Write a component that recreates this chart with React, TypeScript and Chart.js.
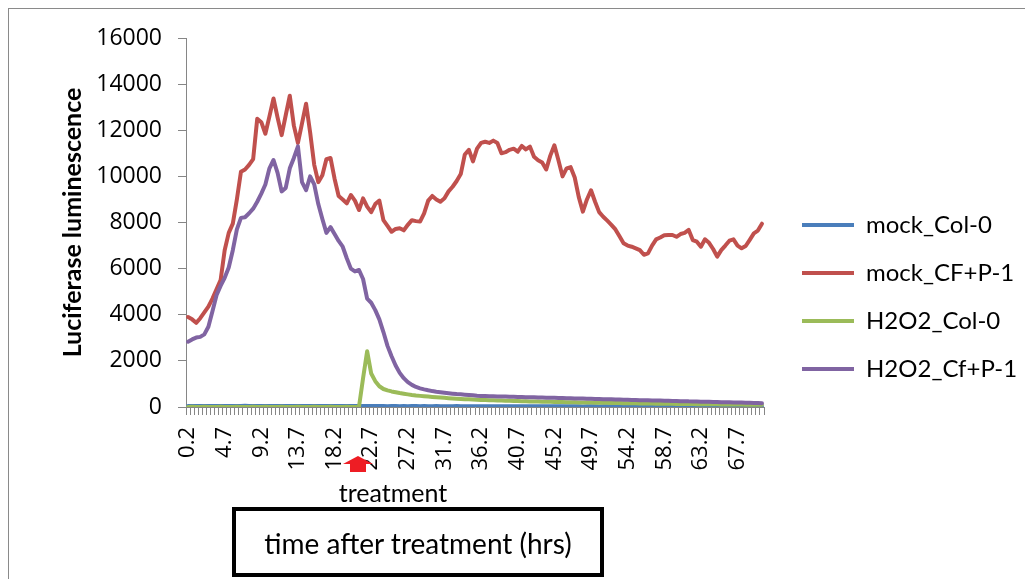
import React, { useEffect, useRef } from "react";
import { Chart, registerables } from "chart.js";

Chart.register(...registerables);

// Time after treatment (hours), one category per half hour
const hours = [
  "0.2", "0.7", "1.2", "1.7", "2.2", "2.7", "3.2", "3.7", "4.2", "4.7",
  "5.2", "5.7", "6.2", "6.7", "7.2", "7.7", "8.2", "8.7", "9.2", "9.7",
  "10.2", "10.7", "11.2", "11.7", "12.2", "12.7", "13.2", "13.7", "14.2", "14.7",
  "15.2", "15.7", "16.2", "16.7", "17.2", "17.7", "18.2", "18.7", "19.2", "19.7",
  "20.2", "20.7", "21.2", "21.7", "22.2", "22.7", "23.2", "23.7", "24.2", "24.7",
  "25.2", "25.7", "26.2", "26.7", "27.2", "27.7", "28.2", "28.7", "29.2", "29.7",
  "30.2", "30.7", "31.2", "31.7", "32.2", "32.7", "33.2", "33.7", "34.2", "34.7",
  "35.2", "35.7", "36.2", "36.7", "37.2", "37.7", "38.2", "38.7", "39.2", "39.7",
  "40.2", "40.7", "41.2", "41.7", "42.2", "42.7", "43.2", "43.7", "44.2", "44.7",
  "45.2", "45.7", "46.2", "46.7", "47.2", "47.7", "48.2", "48.7", "49.2", "49.7",
  "50.2", "50.7", "51.2", "51.7", "52.2", "52.7", "53.2", "53.7", "54.2", "54.7",
  "55.2", "55.7", "56.2", "56.7", "57.2", "57.7", "58.2", "58.7", "59.2", "59.7",
  "60.2", "60.7", "61.2", "61.7", "62.2", "62.7", "63.2", "63.7", "64.2", "64.7",
  "65.2", "65.7", "66.2", "66.7", "67.2", "67.7", "68.2", "68.7", "69.2", "69.7",
  "70.2", "70.7",
];

const seriesNames = ["mock_Col-0", "mock_CF+P-1", "H2O2_Col-0", "H2O2_Cf+P-1"];
const seriesColors = ["#4a7ebb", "#c0504d", "#9bbb59", "#8064a2"];

const mockCol0 = [
  40, 42, 38, 41, 45, 43, 40, 44, 46, 42,
  45, 48, 44, 47, 50, 46, 43, 45, 48, 44,
  46, 43, 45, 47, 44, 42, 45, 43, 41, 44,
  42, 40, 43, 41, 39, 42, 40, 38, 41, 39,
  40, 38, 41, 39, 42, 40, 38, 41, 39, 37,
  40, 38, 36, 39, 37, 40, 38, 36, 39, 37,
  35, 38, 36, 34, 37, 35, 38, 36, 34, 36,
  35, 33, 36, 34, 32, 35, 33, 31, 34, 32,
  33, 31, 34, 32, 30, 33, 31, 29, 32, 30,
  31, 29, 32, 30, 28, 31, 29, 27, 30, 28,
  29, 27, 30, 28, 26, 29, 27, 25, 28, 26,
  27, 25, 28, 26, 24, 27, 25, 23, 26, 24,
  25, 23, 26, 24, 22, 25, 23, 21, 24, 22,
  23, 21, 24, 22, 20, 23, 21, 19, 22, 20,
  21, 20,
];

const mockCfP1 = [
  3900, 3800, 3650, 3850, 4100, 4350, 4700, 5100, 5500, 6800,
  7550, 7950, 9000, 10200, 10300, 10500, 10750, 12500, 12350, 11850,
  12600, 13380, 12550, 11790, 12650, 13500, 12200, 11450, 12300, 13150,
  11900, 10500, 9750, 10050, 10750, 10800, 9900, 9150, 9000, 8830,
  9190, 8950, 8540, 9050, 8690, 8450, 8800, 8950, 8100, 7850,
  7600, 7720, 7750, 7660, 7900, 8100, 8060, 8040, 8400, 8950,
  9150, 9000, 8900, 9050, 9350, 9550, 9800, 10100, 10950, 11150,
  10650, 11200, 11450, 11500, 11450, 11550, 11450, 11000, 11050, 11150,
  11200, 11070, 11320, 11170, 11290, 10850, 10700, 10600, 10300, 10900,
  11350, 10700, 10000, 10350, 10400, 9950, 9100, 8470, 9000, 9400,
  8900, 8450, 8250, 8080, 7900, 7700, 7400, 7100, 7000, 6950,
  6880, 6800, 6600, 6660, 7000, 7270, 7350, 7450, 7460, 7460,
  7380, 7500, 7550, 7680, 7240, 7170, 6950, 7270, 7120, 6850,
  6520, 6800, 7000, 7210, 7270, 7000, 6880, 6980, 7250, 7530,
  7650, 7950,
];

const h2o2Col0 = [
  5, 6, 5, 4, 6, 5, 4, 5, 6, 5,
  4, 5, 6, 5, 4, 5, 6, 4, 5, 6,
  5, 4, 5, 6, 5, 4, 5, 6, 5, 4,
  5, 6, 5, 4, 5, 6, 5, 4, 5, 6,
  5, 4, 6, 1250, 2420, 1450, 1120, 900, 780, 720,
  675, 640, 605, 575, 548, 522, 500, 482, 466, 451,
  437, 424, 410, 396, 383, 371, 360, 350, 341, 332,
  324, 316, 308, 301, 294, 288, 282, 277, 271, 266,
  261, 257, 252, 248, 243, 239, 235, 231, 228, 224,
  220, 217, 213, 210, 207, 203, 200, 197, 194, 191,
  188, 185, 182, 179, 176, 173, 170, 167, 165, 162,
  159, 156, 154, 151, 149, 146, 144, 141, 139, 137,
  134, 132, 130, 128, 126, 124, 122, 120, 118, 116,
  114, 112, 110, 108, 107, 105, 103, 102, 100, 98,
  97, 95,
];

const h2o2CfP1 = [
  2830, 2930, 3010, 3040, 3150, 3480, 4150, 4850, 5250, 5600,
  6050, 6800, 7700, 8200, 8230, 8400, 8600, 8900, 9250, 9650,
  10350, 10710, 10150, 9350, 9500, 10350, 10800, 11300, 9750, 9400,
  10000, 9650, 8800, 8150, 7550, 7800, 7500, 7200, 6950, 6450,
  6000, 5880, 5940, 5550, 4700, 4520, 4200, 3800, 3250, 2650,
  2200, 1800, 1480, 1250, 1080, 960, 870, 810, 765, 725,
  690, 662, 640, 620, 598, 578, 560, 548, 535, 520,
  505, 490, 480, 476, 469, 466, 460, 457, 451, 447,
  443, 437, 434, 427, 424, 420, 413, 410, 406, 399,
  397, 390, 387, 382, 376, 373, 367, 364, 358, 355,
  348, 345, 340, 335, 332, 325, 323, 316, 314, 308,
  305, 298, 296, 290, 287, 280, 278, 271, 269, 262,
  260, 253, 251, 244, 242, 236, 233, 227, 225, 218,
  216, 209, 207, 201, 198, 192, 190, 184, 181, 176,
  172, 166,
];

const yMin = 0;
const yMax = 16000;
const yStep = 2000;
const labelEvery = 9;
const treatmentHour = "21.2";

const TEXT_FONT = "Lato";
const NUM_FONT = "'Open Sans'";
const W = 1025;
const H = 579;
const PLOT_RIGHT = 764;
const LEGEND_FONT = 24;
const LEGEND_PAD = 24;
const LEGEND_LINE = 52;

// Red block arrow marking the time of treatment under the x axis
const treatmentArrow = {
  id: "treatmentArrow",
  afterDraw(chart: any) {
    const idx = hours.indexOf(treatmentHour);
    const cx = chart.scales.x.getPixelForValue(idx) - 1;
    const base = chart.chartArea.bottom;
    const ctx = chart.ctx;
    ctx.save();
    ctx.fillStyle = "#ee1d24";
    ctx.beginPath();
    ctx.moveTo(cx, base + 49);
    ctx.lineTo(cx + 15, base + 57);
    ctx.lineTo(cx + 8, base + 57);
    ctx.lineTo(cx + 8, base + 65);
    ctx.lineTo(cx - 8, base + 65);
    ctx.lineTo(cx - 8, base + 57);
    ctx.lineTo(cx - 15, base + 57);
    ctx.closePath();
    ctx.fill();
    ctx.restore();
  },
};

// Fixed-width legend column on the right, so the plot ends at PLOT_RIGHT
const legendBox = {
  id: "legendBox",
  beforeLayout(chart: any) {
    const lg = chart.legend;
    if (!lg || lg.__fixedFit) return;
    const fit = lg.fit;
    lg.fit = function (this: any) {
      fit.call(this);
      this.width = W - PLOT_RIGHT;
    };
    lg.__fixedFit = true;
  },
  afterLayout(chart: any) {
    const lg = chart.legend;
    if (!lg) return;
    // items sit a little right of the plot edge and slightly above centre
    lg.left += 14;
    lg.right += 14;
    lg.top -= 11.5;
    lg.bottom -= 11.5;
  },
};

export default function App() {
  const canvasRef = useRef<HTMLCanvasElement | null>(null);

  useEffect(() => {
    const canvas = canvasRef.current;
    if (!canvas) return;

    const values = [mockCol0, mockCfP1, h2o2Col0, h2o2CfP1];
    const datasets = values.map((data, i) => ({
      label: seriesNames[i],
      data,
      borderColor: seriesColors[i],
      backgroundColor: seriesColors[i],
      borderWidth: 4,
      pointRadius: 0,
      pointHoverRadius: 0,
      tension: 0,
      borderJoinStyle: "round" as const,
      borderCapStyle: "round" as const,
      pointStyle: "line" as const,
      order: values.length - i,
    }));

    const chart = new Chart(canvas, {
      type: "line",
      data: { labels: hours, datasets },
      plugins: [treatmentArrow, legendBox],
      options: {
        responsive: false,
        animation: false,
        events: [],
        layout: { padding: { left: 54, top: 38, right: 0, bottom: 0 } },
        plugins: {
          tooltip: { enabled: false },
          legend: {
            position: "right",
            labels: {
              usePointStyle: true,
              pointStyleWidth: LEGEND_LINE,
              padding: LEGEND_PAD,
              color: "#000",
              font: { family: TEXT_FONT, size: LEGEND_FONT },
              sort: (a: any, b: any) => a.datasetIndex - b.datasetIndex,
            },
          },
        },
        scales: {
          x: {
            type: "category",
            offset: true,
            afterFit: (s: any) => {
              s.height = 172;
            },
            border: { color: "#868686", width: 1 },
            grid: {
              offset: true,
              drawOnChartArea: false,
              drawTicks: true,
              tickLength: 8,
              color: "#868686",
            },
            ticks: {
              autoSkip: false,
              minRotation: 90,
              maxRotation: 90,
              padding: 12,
              color: "#000",
              font: { family: NUM_FONT, size: 22 },
              callback: (_v: any, i: number) => (i % labelEvery === 0 ? hours[i] : ""),
            },
          },
          y: {
            min: yMin,
            max: yMax,
            afterFit: (s: any) => {
              s.width = 132;
            },
            border: { color: "#868686", width: 1 },
            grid: {
              drawOnChartArea: false,
              drawTicks: true,
              tickLength: 8,
              color: "#868686",
            },
            ticks: {
              stepSize: yStep,
              padding: 16,
              color: "#000",
              font: { family: NUM_FONT, size: 23 },
              callback: (v: any) => String(v),
            },
            title: {
              display: true,
              text: "Luciferase luminescence",
              color: "#000",
              font: { family: TEXT_FONT, size: 25, weight: "bold" },
            },
          },
        },
      },
    });

    return () => chart.destroy();
  }, []);

  return (
    <div
      style={{
        position: "fixed",
        left: 0,
        top: 0,
        width: W,
        height: H,
        overflow: "hidden",
        background: "#fff",
        fontFamily: TEXT_FONT,
      }}
    >
      <canvas ref={canvasRef} width={W} height={H} style={{ position: "absolute", left: 0, top: 0, width: W, height: H }} />
      <div
        style={{
          position: "absolute",
          left: 8,
          top: 8,
          width: W - 8,
          height: H - 8,
          borderTop: "1px solid #8a8a8a",
          borderLeft: "1px solid #8a8a8a",
          boxSizing: "border-box",
          pointerEvents: "none",
        }}
      />
      <div
        style={{
          position: "absolute",
          left: 293,
          width: 200,
          top: 477,
          textAlign: "center",
          fontSize: 25,
          lineHeight: "normal",
          color: "#000",
        }}
      >
        treatment
      </div>
      <div
        style={{
          position: "absolute",
          left: 232,
          top: 507,
          width: 372,
          height: 70,
          border: "4px solid #000",
          boxSizing: "border-box",
          display: "flex",
          alignItems: "center",
          justifyContent: "center",
          fontSize: 28,
          paddingTop: 2,
          color: "#000",
        }}
      >
        time after treatment (hrs)
      </div>
    </div>
  );
}
